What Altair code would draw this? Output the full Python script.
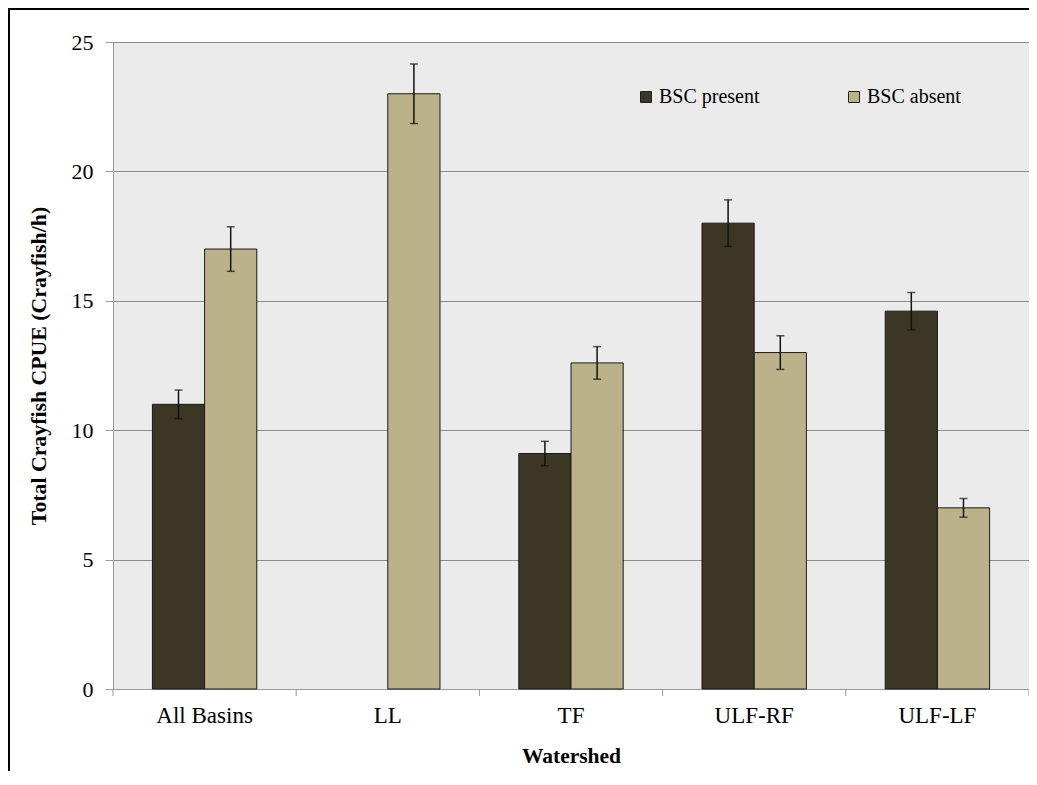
import altair as alt
import pandas as pd

watersheds = ["All Basins", "LL", "TF", "ULF-RF", "ULF-LF"]
groups = ["BSC present", "BSC absent"]
present_cpue = [11.0, None, 9.1, 18.0, 14.6]
present_err = [0.55, None, 0.47, 0.90, 0.72]
absent_cpue = [17.0, 23.0, 12.6, 13.0, 7.0]
absent_err = [0.86, 1.15, 0.63, 0.65, 0.36]
y_ticks = [0, 5, 10, 15, 20, 25]
group_colors = ["#3c3724", "#bbb28a"]

rows = []
for i, w in enumerate(watersheds):
    for g, vals, errs in ((groups[0], present_cpue, present_err),
                          (groups[1], absent_cpue, absent_err)):
        v, e = vals[i], errs[i]
        if v is None:
            continue
        rows.append({"Watershed": w, "Group": g, "CPUE": v, "lo": v - e, "hi": v + e})
df = pd.DataFrame(rows)
cat_df = pd.DataFrame({"Watershed": watersheds})

FONT = "Liberation Serif"
W, H = 916, 647

x_axis = alt.Axis(title="Watershed", labelAngle=0, ticks=False,
                  labelFont=FONT, labelFontSize=23, labelColor="black", labelPadding=15,
                  domainColor="#999999",
                  titleFont=FONT, titleFontSize=21.5, titleFontWeight="bold", titleColor="black",
                  titleX=W / 2, titleY=67, titleBaseline="middle", grid=False)
x_scale = alt.Scale(domain=watersheds, paddingInner=0, paddingOuter=0)
x_enc = alt.X("Watershed:N", sort=watersheds, scale=x_scale, axis=x_axis)
xo_enc = alt.XOffset("Group:N", sort=groups,
                     scale=alt.Scale(domain=groups, paddingInner=0, paddingOuter=0.755))

y_axis = alt.Axis(title="Total Crayfish CPUE (Crayfish/h)", values=y_ticks, grid=True,
                  gridColor="#8c8c8c", gridWidth=1, tickSize=8, tickColor="#999999",
                  domainColor="#999999", labelFont=FONT, labelFontSize=22, labelColor="black",
                  labelPadding=12, titleFont=FONT, titleFontSize=21.8, titleFontWeight="bold",
                  titleColor="black", titleX=-75, titleY=H / 2, titleBaseline="middle")
y_scale = alt.Scale(domain=[0, 25], nice=False)

color_enc = alt.Color("Group:N", sort=groups,
                      scale=alt.Scale(domain=groups, range=group_colors),
                      legend=alt.Legend(title=None, orient="none", legendX=523, legendY=45,
                                        direction="horizontal", symbolType="square",
                                        symbolSize=121, symbolStrokeColor="#222222",
                                        symbolStrokeWidth=1, labelFont=FONT, labelFontSize=20,
                                        labelColor="black", labelOffset=3, columnPadding=84,
                                        padding=0))

base = alt.Chart(df)

bars = base.mark_bar(stroke="#1a1a1a", strokeWidth=1).encode(
    x=x_enc, xOffset=xo_enc,
    y=alt.Y("CPUE:Q", scale=y_scale, axis=y_axis),
    color=color_enc,
)

err_rule = base.mark_rule(color="#111111", strokeWidth=1.5).encode(
    x=x_enc, xOffset=xo_enc,
    y=alt.Y("lo:Q", scale=y_scale, axis=y_axis),
    y2="hi:Q",
)

cap_hi = base.mark_tick(color="#111111", size=8, thickness=1.5).encode(
    x=x_enc, xOffset=xo_enc, y=alt.Y("hi:Q", scale=y_scale, axis=y_axis))
cap_lo = base.mark_tick(color="#111111", size=8, thickness=1.5).encode(
    x=x_enc, xOffset=xo_enc, y=alt.Y("lo:Q", scale=y_scale, axis=y_axis))

# category-boundary tick marks on the x axis
x_ticks = alt.Chart(cat_df).mark_rule(color="#999999", strokeWidth=1).encode(
    x=alt.X("Watershed:N", sort=watersheds, scale=x_scale, axis=x_axis, bandPosition=0),
    y=alt.value(H), y2=alt.value(H + 7),
)
x_tick_end = alt.Chart(cat_df.tail(1)).mark_rule(color="#999999", strokeWidth=1).encode(
    x=alt.X("Watershed:N", sort=watersheds, scale=x_scale, axis=x_axis, bandPosition=1),
    y=alt.value(H), y2=alt.value(H + 7),
)

frame_data = alt.Data(values=[{"k": 1}])
frame_top = alt.Chart(frame_data).mark_rule(color="black", strokeWidth=2).encode(
    x=alt.value(-104), x2=alt.value(916), y=alt.value(-33))
frame_left = alt.Chart(frame_data).mark_rule(color="black", strokeWidth=2).encode(
    x=alt.value(-104), y=alt.value(-34), y2=alt.value(731))

chart = alt.layer(bars, err_rule, cap_hi, cap_lo, x_ticks, x_tick_end,
                  frame_top, frame_left).properties(
    width=W, height=H,
    autosize=alt.AutoSizeParams(type="none"),
    padding={"left": 105, "top": 34, "right": 0, "bottom": 82},
    background="white",
).configure_view(
    fill="#ebebeb", stroke="#8c8c8c", strokeWidth=1,
)

chart.save("out.html", embed_options={"renderer": "svg", "actions": False})
